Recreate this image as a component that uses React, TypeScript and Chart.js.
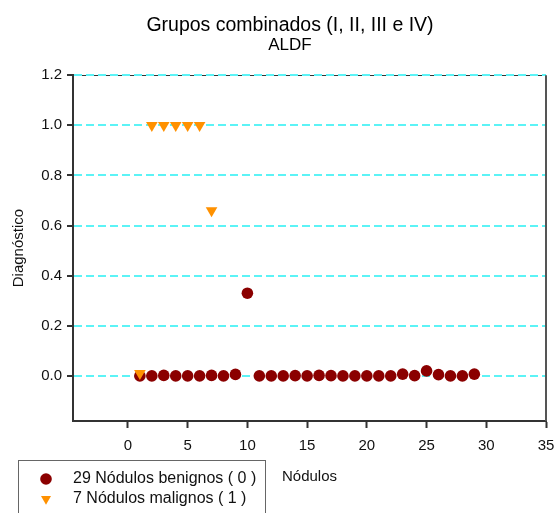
import { useEffect, useRef } from 'react';
import { Chart, registerables } from 'chart.js';

Chart.register(...registerables);

const TITLE = 'Grupos combinados (I, II, III e IV)';
const SUBTITLE = 'ALDF';
const X_TITLE = 'Nódulos';
const Y_TITLE = 'Diagnóstico';

const BENIGN_LABEL = '29 Nódulos benignos ( 0 )';
const MALIGNANT_LABEL = '7 Nódulos malignos ( 1 )';

const BENIGN_X = [1, 2, 3, 4, 5, 6, 7, 8, 9, 10, 11, 12, 13, 14, 15, 16, 17, 18, 19, 20, 21, 22, 23, 24, 25, 26, 27, 28, 29];
const BENIGN_Y = [0, 0, 0.002, 0, 0, 0, 0.002, 0, 0.006, 0.33, 0, 0, 0, 0.001, 0, 0.002, 0.001, 0, 0, 0, 0, 0, 0.007, 0.001, 0.02, 0.005, 0, 0, 0.007];

const MALIGNANT_X = [1, 2, 3, 4, 5, 6, 7];
const MALIGNANT_Y = [0.01, 1, 1, 1, 1, 1, 0.66];

const X_TICKS = [0, 5, 10, 15, 20, 25, 30, 35];
const Y_TICKS = [0, 0.2, 0.4, 0.6, 0.8, 1.0, 1.2];

const FONT = '"Liberation Sans", Arial, Helvetica, sans-serif';
const BENIGN_COLOR = '#8B0000';
const MALIGNANT_COLOR = '#FF9100';
const GRID_COLOR = '#5CF3F6';
const AXIS_COLOR = '#333333';

// Frame pieces around the plot area and the boxed legend at the lower left.
const framePlugin = {
  id: 'frame',
  beforeDraw(chart: any) {
    const { ctx, chartArea } = chart;
    ctx.save();
    ctx.strokeStyle = AXIS_COLOR;
    ctx.lineWidth = 1;
    ctx.beginPath();
    ctx.moveTo(chartArea.left, Math.round(chartArea.top) + 0.5);
    ctx.lineTo(chartArea.right, Math.round(chartArea.top) + 0.5);
    ctx.stroke();
    ctx.restore();
  },
  afterDraw(chart: any) {
    const { ctx, chartArea } = chart;
    ctx.save();
    // right edge of the frame
    ctx.strokeStyle = '#555555';
    ctx.lineWidth = 2;
    ctx.beginPath();
    ctx.moveTo(Math.round(chartArea.right), chartArea.top);
    ctx.lineTo(Math.round(chartArea.right), chartArea.bottom);
    ctx.stroke();

    // legend box
    ctx.strokeStyle = '#666666';
    ctx.lineWidth = 1;
    ctx.strokeRect(18.5, 460.5, 247, 70);
    ctx.font = `16px ${FONT}`;
    ctx.textBaseline = 'middle';
    ctx.textAlign = 'left';
    chart.data.datasets.forEach((ds: any, i: number) => {
      const cx = 46;
      const cy = 479 + i * 20;
      ctx.fillStyle = ds.pointBackgroundColor;
      ctx.beginPath();
      if (ds.pointStyle === 'triangle') {
        const r = 5.8;
        ctx.moveTo(cx - r * 0.866, cy - r / 2);
        ctx.lineTo(cx + r * 0.866, cy - r / 2);
        ctx.lineTo(cx, cy + r);
        ctx.closePath();
      } else {
        ctx.arc(cx, cy, 5.8, 0, Math.PI * 2);
      }
      ctx.fill();
      ctx.fillStyle = '#111111';
      ctx.fillText(ds.label, 73, cy);
    });
    ctx.restore();
  },
};

export default function App() {
  const canvasRef = useRef<HTMLCanvasElement | null>(null);

  useEffect(() => {
    const canvas = canvasRef.current;
    if (!canvas) return;
    const chart = new Chart(canvas, {
      type: 'scatter',
      data: {
        datasets: [
          {
            label: BENIGN_LABEL,
            data: BENIGN_X.map((x, i) => ({ x, y: BENIGN_Y[i] })),
            pointStyle: 'circle',
            pointRadius: 5.8,
            pointBackgroundColor: BENIGN_COLOR,
            pointBorderColor: BENIGN_COLOR,
            pointBorderWidth: 0,
            showLine: false,
            order: 1,
          } as any,
          {
            label: MALIGNANT_LABEL,
            data: MALIGNANT_X.map((x, i) => ({ x, y: MALIGNANT_Y[i] })),
            pointStyle: 'triangle',
            pointRotation: 180,
            pointRadius: 6.7,
            pointBackgroundColor: MALIGNANT_COLOR,
            pointBorderColor: MALIGNANT_COLOR,
            pointBorderWidth: 0,
            showLine: false,
            order: 0,
          } as any,
        ],
      },
      options: {
        responsive: false,
        animation: false,
        devicePixelRatio: 1,
        layout: { padding: { top: 15, left: 34, right: 9, bottom: 0 } },
        plugins: {
          legend: { display: false },
          tooltip: { enabled: false },
          title: {
            display: true,
            text: TITLE,
            color: '#000000',
            font: { family: FONT, size: 19.5, weight: 'normal', lineHeight: 1.1 },
            padding: { top: 0, bottom: 0 },
          },
          subtitle: {
            display: true,
            text: SUBTITLE,
            color: '#000000',
            font: { family: FONT, size: 17, weight: 'normal', lineHeight: 1.1 },
            padding: { top: 0, bottom: 20 },
          },
        },
        scales: {
          x: {
            type: 'linear',
            position: 'bottom',
            min: -4.6,
            max: 35,
            afterFit: (s: any) => {
              s.height = 92;
              s.paddingLeft = 0;
              s.paddingRight = 0;
            },
            afterBuildTicks: (s: any) => {
              s.ticks = X_TICKS.map((v) => ({ value: v }));
            },
            ticks: {
              color: '#111111',
              font: { family: FONT, size: 15 },
              padding: 9,
              maxRotation: 0,
              autoSkip: false,
            },
            grid: {
              drawOnChartArea: false,
              drawTicks: true,
              tickLength: 7,
              tickColor: AXIS_COLOR,
              tickWidth: 2,
            },
            border: { display: true, color: AXIS_COLOR, width: 2 },
            title: {
              display: true,
              text: X_TITLE,
              color: '#111111',
              font: { family: FONT, size: 15 },
              padding: { top: 0, bottom: 27 },
            },
          },
          y: {
            type: 'linear',
            position: 'left',
            min: -0.18,
            max: 1.2,
            afterFit: (s: any) => {
              s.width = 39;
            },
            afterBuildTicks: (s: any) => {
              s.ticks = Y_TICKS.map((v) => ({ value: v }));
            },
            ticks: {
              color: '#111111',
              font: { family: FONT, size: 15 },
              padding: 5,
              callback: (v: any) => Number(v).toFixed(1),
            },
            grid: {
              color: GRID_COLOR,
              lineWidth: 2,
              tickLength: 6,
              tickColor: AXIS_COLOR,
              tickWidth: 2,
            },
            border: { display: true, color: AXIS_COLOR, width: 2, dash: [8, 4] },
            title: {
              display: true,
              text: Y_TITLE,
              color: '#111111',
              font: { family: FONT, size: 15 },
              padding: { top: -24, bottom: 0 },
            },
          },
        },
      } as any,
      plugins: [framePlugin],
    });
    return () => chart.destroy();
  }, []);

  return (
    <div style={{ position: 'fixed', left: 0, top: 0, width: 555, height: 513, background: '#ffffff', overflow: 'hidden' }}>
      <canvas ref={canvasRef} width={555} height={513} style={{ display: 'block' }} />
    </div>
  );
}
